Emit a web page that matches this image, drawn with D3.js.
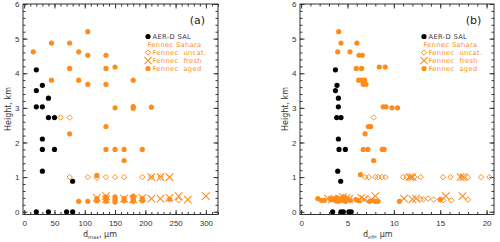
<!DOCTYPE html>
<html><head><meta charset="utf-8">
<script src="https://cdn.jsdelivr.net/npm/d3@7"></script>
<style>
html,body{margin:0;padding:0;background:#fff;}
svg{display:block;}
</style></head>
<body>
<svg id="c" width="500" height="242"></svg>
<script>
// ---------------- DATA ----------------
// panel (a): x = d_max (µm), y = height (km)
const aSAL = [[20,4.1],[20,3.5],[30,3.65],[40,3.28],[20,3.03],[30,3.03],[40,2.72],[50,2.72],[30,2.1],[30,1.8],[50,1.8],[30,1.17],[80,0.88],[20,0],[40,0],[70,0],[80,0]];
const aAged = [[15,4.62],[45,4.87],[75,4.87],[90,4.62],[105,5.2],[105,4.52],[135,4.52],[75,4.14],[135,4.14],[150,4.18],[45,3.8],[90,3.8],[180,3.8],[105,3.68],[135,3.68],[150,3.0],[180,3.04],[180,2.99],[210,3.02],[135,2.46],[75,2.25],[135,1.8],[150,1.8],[165,1.8],[195,1.8],[165,1.48],[120,1.05],
  [90,0.3],[105,0.3],[120,0.32],[120,0.38],[135,0.3],[135,0.36],[135,0.42],[150,0.28],[150,0.33],[150,0.38],[150,0.43],[165,0.32],[165,0.38],[180,0.3],[180,0.35],[180,0.4],[180,0.45],[195,0.32],[195,0.38],[240,0.36]];
const aUncat = [[60,2.72],[75,2.72],[75,1.0],[105,1.0],[120,0.98],[135,1.0],[150,1.0],[165,1.0],[195,1.0],[210,1.0],[225,1.0],[255,0.33]];
const aFresh = [[210,1.0],[225,1.0],[240,1.0],[120,0.4],[135,0.45],[135,0.36],[165,0.38],[180,0.36],[195,0.4],[210,0.38],[225,0.38],[240,0.4],[255,0.45],[270,0.35],[300,0.45]];

// panel (b): x = d_eff (µm), y = height (km)
const bSAL = [[3.7,4.1],[3.7,3.5],[3.87,3.65],[4.02,3.28],[4.02,3.03],[3.84,2.72],[4.3,2.72],[4.02,2.1],[4.09,1.8],[4.77,1.8],[3.95,1.17],[4.27,0.88],[3.4,0],[4.3,0],[4.55,0],[5.15,0],[5.4,0]];
const bAged = [[4.05,5.2],[4.3,4.87],[6.02,4.87],[3.95,4.62],[5.27,4.62],[6.25,4.52],[6.6,4.52],[5.95,4.14],[6.53,4.14],[8.43,4.18],[9.07,4.18],[6.2,3.8],[6.5,3.8],[6.85,3.8],[6.7,3.68],[7.0,3.68],[8.85,3.03],[9.15,3.03],[9.8,3.0],[10.4,3.0],[7.25,2.46],[7.5,2.46],[6.9,2.25],[6.7,1.8],[7.2,1.8],[8.75,1.8],[8.95,1.8],[7.82,1.48],[6.4,1.07],
  [1.8,0.38],[2.2,0.33],[2.5,0.33],[3.2,0.35],[3.4,0.38],[3.7,0.33],[3.9,0.4],[4.0,0.3],[4.2,0.36],[4.4,0.33],[4.6,0.4],[4.8,0.3],[5.0,0.36],[5.3,0.33],[5.9,0.35],[6.2,0.32],[7.4,0.3],[7.7,0.33],[8.0,0.3],[8.3,0.3],[10.6,0.3],[15.0,0.35]];
const bUncat = [[7.82,2.72],[6.9,1.0],[7.3,1.0],[8.0,1.0],[8.3,1.0],[8.7,1.0],[9.1,1.0],[11.0,1.0],[11.35,1.0],[11.8,1.0],[12.2,1.0],[12.9,1.0],[15.3,1.0],[16.1,1.0],[17.3,1.0],[18.0,1.0],[19.4,1.0],[20.3,1.0],
  [4.7,0.35],[7.2,0.38],[12.9,0.36],[13.2,0.36],[13.7,0.38],[14.3,0.35],[15.0,0.35],[15.3,0.33],[16.2,0.33],[18.0,0.35]];
const bFresh = [[11.75,1.0],[12.0,1.0],[17.2,1.0],[17.5,1.0],
  [2.9,0.38],[3.3,0.35],[4.1,0.38],[4.5,0.42],[4.9,0.4],[5.2,0.38],[6.5,0.4],[6.8,0.36],[8.0,0.45],[11.1,0.38],[12.0,0.36],[12.4,0.38],[15.6,0.45],[17.4,0.45]];

const yTicks = [0,1,2,3,4,5,6];
const aXTicks = [0,50,100,150,200,250,300];
const bXTicks = [0,5,10,15,20];
const legendLabels = ["AER-D SAL","Fennec Sahara","Fennec  uncat.","Fennec  fresh","Fennec  aged"];
const panelLabels = ["(a)","(b)"];

// ---------------- DRAW ----------------
const ORANGE = "#ff8c1a", BLACK = "#000", AX = "#333";
const svg = d3.select("#c");
const y = d3.scaleLinear().domain([-0.08, 6]).range([214.5, 4]);
const yMinor = d3.range(0, 6.0001, 0.2);

const panels = [
  {x: d3.scaleLinear().domain([-2, 320]).range([23, 218]), ticks: aXTicks, minor: d3.range(0, 320.1, 10),
   sal: aSAL, aged: aAged, uncat: aUncat, fresh: aFresh, label: panelLabels[0], sub: "max", ylx: 8.5, xl: 83},
  {x: d3.scaleLinear().domain([-0.12, 20.8]).range([300, 494]), ticks: bXTicks, minor: d3.range(0, 20.8, 1),
   sal: bSAL, aged: bAged, uncat: bUncat, fresh: bFresh, label: panelLabels[1], sub: "eff", ylx: 285.5, xl: 363}
];

function diamond(g, cx, cy, r){
  g.append("path").attr("d", `M${cx},${cy-r}L${cx+r},${cy}L${cx},${cy+r}L${cx-r},${cy}Z`)
   .attr("fill","none").attr("stroke",ORANGE).attr("stroke-width",1);
}
function cross(g, cx, cy, r){
  g.append("path").attr("d", `M${cx-r},${cy-r}L${cx+r},${cy+r}M${cx-r},${cy+r}L${cx+r},${cy-r}`)
   .attr("fill","none").attr("stroke",ORANGE).attr("stroke-width",1.1);
}

panels.forEach(p => {
  const x = p.x;
  const [x0, x1] = x.range();
  const [yb, yt] = y.range();
  const g = svg.append("g");

  // axes: major + minor, ticks inward on all four sides
  const style = sel => { sel.select(".domain").remove(); sel.selectAll("line").attr("stroke", AX); };
  g.append("g").attr("transform",`translate(0,${yb})`)
    .call(d3.axisBottom(x).tickValues(p.ticks).tickSize(-4.5).tickPadding(5.5).tickFormat(d3.format("d")))
    .call(style).selectAll("text").attr("fill",AX).style("font","8px 'Liberation Sans', Arial, sans-serif");
  g.append("g").attr("transform",`translate(0,${yb})`)
    .call(d3.axisBottom(x).tickValues(p.minor).tickSize(-2.5).tickFormat("")).call(style);
  g.append("g").attr("transform",`translate(0,${yt})`)
    .call(d3.axisTop(x).tickValues(p.ticks).tickSize(-4.5).tickFormat("")).call(style);
  g.append("g").attr("transform",`translate(0,${yt})`)
    .call(d3.axisTop(x).tickValues(p.minor).tickSize(-2.5).tickFormat("")).call(style);

  g.append("g").attr("transform",`translate(${x0},0)`)
    .call(d3.axisLeft(y).tickValues(yTicks).tickSize(-4.5).tickPadding(3.5).tickFormat(d3.format("d")))
    .call(style).selectAll("text").attr("fill",AX).style("font","8px 'Liberation Sans', Arial, sans-serif");
  g.append("g").attr("transform",`translate(${x0},0)`)
    .call(d3.axisLeft(y).tickValues(yMinor).tickSize(-2.5).tickFormat("")).call(style);
  g.append("g").attr("transform",`translate(${x1},0)`)
    .call(d3.axisRight(y).tickValues(yTicks).tickSize(-4.5).tickFormat("")).call(style);
  g.append("g").attr("transform",`translate(${x1},0)`)
    .call(d3.axisRight(y).tickValues(yMinor).tickSize(-2.5).tickFormat("")).call(style);

  // frame
  g.append("rect").attr("x",x0).attr("y",yt).attr("width",x1-x0).attr("height",yb-yt)
    .attr("fill","none").attr("stroke",AX).attr("stroke-width",1);

  // data
  const m = g.append("g");
  p.sal.forEach(d => m.append("circle").attr("cx",x(d[0])).attr("cy",y(d[1])).attr("r",2.6).attr("fill",BLACK));
  p.uncat.forEach(d => diamond(m, x(d[0]), y(d[1]), 2.7));
  p.fresh.forEach(d => cross(m, x(d[0]), y(d[1]), 3.8));
  p.aged.forEach(d => m.append("circle").attr("cx",x(d[0])).attr("cy",y(d[1])).attr("r",2.6).attr("fill",ORANGE));

  // panel label
  g.append("text").attr("x", x1-20.5).attr("y", 24).attr("text-anchor","middle")
    .style("font","11px 'DejaVu Sans', sans-serif").attr("fill","#222").text(p.label);

  // legend
  const lx = x1 - 70, ly = [36.5, 44.5, 52.5, 60.5, 68.5];
  const lf = "6.7px 'DejaVu Sans', sans-serif";
  const addText = (xx, yy, col, t) => g.append("text").attr("x",xx).attr("y",yy+2.4).style("font",lf)
      .style("letter-spacing","0.35px").attr("fill",col).attr("xml:space","preserve").text(t);
  g.append("circle").attr("cx",lx).attr("cy",ly[0]).attr("r",2.6).attr("fill",BLACK);
  addText(lx+4.5, ly[0], "#333", legendLabels[0]);
  addText(lx-0.5, ly[1], ORANGE, legendLabels[1]);
  diamond(g, lx, ly[2], 2.7);
  addText(lx+4.5, ly[2], ORANGE, legendLabels[2]);
  cross(g, lx, ly[3], 3.6);
  addText(lx+4.5, ly[3], ORANGE, legendLabels[3]);
  g.append("circle").attr("cx",lx).attr("cy",ly[4]).attr("r",2.6).attr("fill",ORANGE);
  addText(lx+4.5, ly[4], ORANGE, legendLabels[4]);

  // axis titles
  g.append("text").attr("transform",`translate(${p.ylx},109) rotate(-90)`).attr("text-anchor","middle")
    .attr("dy","0.35em").style("font","8px 'DejaVu Sans', sans-serif").attr("fill","#333").text("Height, km");
  const xt = g.append("text").attr("x",p.xl).attr("y",237).style("font","8px 'DejaVu Sans', sans-serif").attr("fill","#333");
  xt.append("tspan").text("d");
  xt.append("tspan").attr("dy",2).style("font-size","5px").text(p.sub);
  xt.append("tspan").attr("dy",-2).text(", \u03bcm");
});
</script>
</body></html>
